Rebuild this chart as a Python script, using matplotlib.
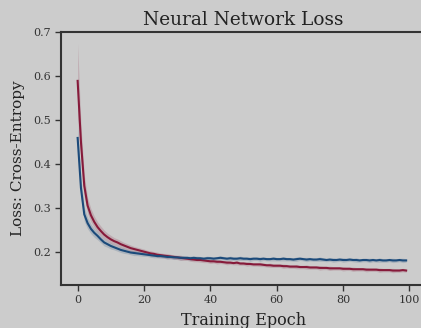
import numpy as np
import matplotlib
matplotlib.use("Agg")
import matplotlib.pyplot as plt

# --- Data ---
epochs = list(range(100))

red_loss = [
    0.589, 0.450, 0.350, 0.305, 0.283, 0.268, 0.256, 0.247, 0.239, 0.233,
    0.228, 0.224, 0.221, 0.217, 0.214, 0.211, 0.208, 0.206, 0.204, 0.202,
    0.200, 0.198, 0.196, 0.195, 0.193, 0.192, 0.191, 0.190, 0.189, 0.188,
    0.187, 0.186, 0.185, 0.184, 0.183, 0.182, 0.181, 0.181, 0.180, 0.179,
    0.178, 0.178, 0.177, 0.177, 0.176, 0.175, 0.175, 0.174, 0.175, 0.173,
    0.173, 0.172, 0.172, 0.171, 0.171, 0.171, 0.170, 0.169, 0.169, 0.168,
    0.168, 0.168, 0.167, 0.167, 0.166, 0.166, 0.166, 0.165, 0.165, 0.165,
    0.164, 0.164, 0.164, 0.163, 0.163, 0.163, 0.162, 0.162, 0.162, 0.162,
    0.161, 0.161, 0.161, 0.160, 0.160, 0.160, 0.160, 0.159, 0.159, 0.159,
    0.159, 0.158, 0.158, 0.158, 0.158, 0.157, 0.157, 0.157, 0.158, 0.157,
]
red_std = [
    0.085, 0.040, 0.025, 0.018, 0.015, 0.013, 0.012, 0.011, 0.010, 0.009,
    0.009, 0.008, 0.008, 0.008, 0.007, 0.007, 0.007, 0.006, 0.006, 0.006,
    0.006, 0.005, 0.006, 0.005, 0.006, 0.005, 0.005, 0.006, 0.005, 0.005,
    0.005, 0.006, 0.005, 0.004, 0.005, 0.005, 0.004, 0.005, 0.005, 0.004,
    0.005, 0.004, 0.005, 0.004, 0.004, 0.005, 0.004, 0.004, 0.005, 0.004,
    0.004, 0.005, 0.004, 0.004, 0.004, 0.005, 0.004, 0.004, 0.005, 0.004,
    0.004, 0.004, 0.005, 0.004, 0.004, 0.004, 0.005, 0.004, 0.004, 0.005,
    0.004, 0.004, 0.004, 0.005, 0.004, 0.004, 0.005, 0.004, 0.004, 0.004,
    0.005, 0.004, 0.004, 0.005, 0.004, 0.004, 0.004, 0.005, 0.004, 0.004,
    0.004, 0.005, 0.004, 0.004, 0.004, 0.005, 0.004, 0.004, 0.004, 0.004,
]

blue_loss = [
    0.459, 0.345, 0.285, 0.265, 0.252, 0.243, 0.236, 0.228, 0.221, 0.217,
    0.213, 0.210, 0.207, 0.204, 0.202, 0.200, 0.198, 0.197, 0.196, 0.195,
    0.194, 0.193, 0.192, 0.191, 0.190, 0.190, 0.189, 0.188, 0.188, 0.187,
    0.187, 0.186, 0.186, 0.186, 0.185, 0.186, 0.185, 0.185, 0.184, 0.185,
    0.185, 0.184, 0.185, 0.186, 0.185, 0.184, 0.185, 0.184, 0.184, 0.185,
    0.184, 0.184, 0.183, 0.184, 0.184, 0.183, 0.184, 0.183, 0.183, 0.184,
    0.183, 0.183, 0.184, 0.183, 0.183, 0.182, 0.183, 0.184, 0.183, 0.182,
    0.183, 0.182, 0.182, 0.183, 0.182, 0.181, 0.182, 0.181, 0.181, 0.182,
    0.181, 0.181, 0.182, 0.181, 0.181, 0.180, 0.181, 0.181, 0.180, 0.181,
    0.180, 0.181, 0.180, 0.180, 0.181, 0.180, 0.180, 0.181, 0.180, 0.180,
]
blue_std = [
    0.030, 0.022, 0.016, 0.013, 0.011, 0.010, 0.009, 0.008, 0.008, 0.007,
    0.007, 0.006, 0.006, 0.006, 0.006, 0.005, 0.005, 0.006, 0.005, 0.005,
    0.005, 0.004, 0.005, 0.005, 0.004, 0.005, 0.004, 0.005, 0.004, 0.005,
    0.004, 0.005, 0.004, 0.004, 0.005, 0.004, 0.005, 0.004, 0.004, 0.005,
    0.004, 0.005, 0.004, 0.005, 0.004, 0.004, 0.005, 0.004, 0.004, 0.005,
    0.004, 0.004, 0.005, 0.004, 0.004, 0.005, 0.004, 0.004, 0.004, 0.005,
    0.004, 0.004, 0.005, 0.004, 0.004, 0.004, 0.005, 0.004, 0.004, 0.005,
    0.004, 0.004, 0.004, 0.005, 0.004, 0.004, 0.004, 0.005, 0.004, 0.004,
    0.005, 0.004, 0.004, 0.004, 0.005, 0.004, 0.004, 0.004, 0.005, 0.004,
    0.004, 0.005, 0.004, 0.004, 0.004, 0.005, 0.004, 0.004, 0.005, 0.004,
]

# --- Style ---
BG = "#cccccc"
RED = "#861a3a"
BLUE = "#1b4a7a"
INK = "#333333"

plt.rcParams["font.family"] = ["DejaVu Serif"]

fig = plt.figure(figsize=(4.21, 3.28), dpi=100, facecolor=BG)
ax = fig.add_axes([0.145, 0.131, 0.867, 0.771], facecolor=BG)

x = np.array(epochs)
for mean, std, color in [(red_loss, red_std, RED), (blue_loss, blue_std, BLUE)]:
    mean = np.array(mean)
    std = np.array(std)
    ax.fill_between(x, mean - std, mean + std, color=color, alpha=0.18, lw=0)
    ax.plot(x, mean, color=color, lw=1.5)

ax.set_xlim(-5, 105)
ax.set_ylim(0.124, 0.70)
ax.set_xticks([0, 20, 40, 60, 80, 100])
ax.set_yticks([0.2, 0.3, 0.4, 0.5, 0.6, 0.7])

for side in ["left", "top", "bottom", "right"]:
    ax.spines[side].set_color(INK)
    ax.spines[side].set_linewidth(1.5)

ax.tick_params(axis="both", colors=INK, labelsize=8, length=4, width=1.0,
               direction="out")

ax.set_title("Neural Network Loss", fontsize=13.3, color="#222222", pad=5)
ax.set_xlabel("Training Epoch", fontsize=11.5, color="#222222", labelpad=4.5)
ax.set_ylabel("Loss: Cross-Entropy", fontsize=11, color="#222222", labelpad=6)

fig.savefig("out.png", dpi=100, facecolor=BG)
